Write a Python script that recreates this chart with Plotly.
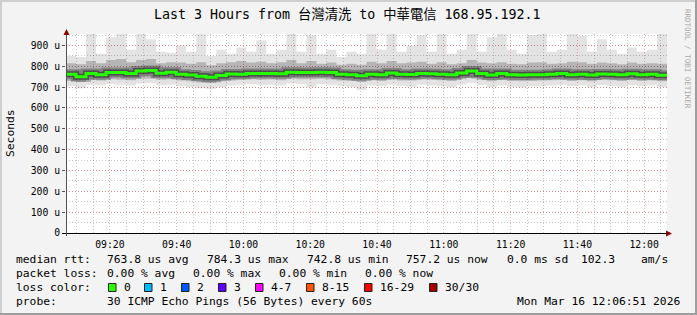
import plotly.graph_objects as go
import pandas as pd

# ---------------- data (microseconds), one value per 3-minute column ----------------
start = pd.Timestamp("2026-03-16 09:06:51")
end = pd.Timestamp("2026-03-16 12:06:51")
times = list(pd.date_range(start, periods=60, freq="3min"))

median_us = [762, 750, 766, 760, 770, 770, 766, 778, 780, 767,
             772, 762, 758, 752, 748, 756, 763, 762, 766, 765,
             766, 764, 772, 770, 770, 772, 770, 762, 760, 755,
             762, 760, 768, 762, 761, 766, 764, 762, 760, 768,
             778, 766, 758, 765, 760, 758, 760, 760, 762, 765,
             760, 762, 758, 763, 762, 760, 764, 760, 762, 757]

smoke_top = [850, 845, 955, 860, 940, 955, 880, 955, 930, 870,
             865, 900, 870, 955, 850, 880, 860, 890, 870, 925,
             860, 880, 955, 870, 950, 860, 880, 845, 870, 860,
             955, 880, 955, 870, 900, 950, 870, 955, 860, 880,
             955, 870, 940, 955, 880, 860, 950, 955, 870, 880,
             955, 945, 870, 930, 880, 860, 890, 870, 880, 955]

smoke_upper = [815, 810, 825, 815, 830, 835, 820, 830, 835, 815,
               820, 818, 812, 820, 805, 815, 820, 825, 818, 822,
               815, 820, 830, 815, 825, 812, 818, 808, 812, 808,
               822, 815, 825, 815, 818, 822, 812, 820, 810, 815,
               830, 818, 815, 820, 812, 810, 818, 820, 812, 815,
               822, 820, 812, 818, 815, 810, 818, 812, 815, 812]

smoke_lower = [730, 725, 735, 732, 738, 735, 733, 740, 742, 735,
               738, 732, 728, 722, 720, 728, 732, 735, 738, 735,
               737, 733, 740, 738, 738, 740, 738, 732, 730, 725,
               733, 730, 738, 732, 732, 737, 735, 733, 730, 738,
               745, 736, 728, 735, 730, 728, 730, 732, 733, 735,
               730, 733, 728, 735, 733, 730, 735, 730, 733, 728]

smoke_bottom = [705, 695, 712, 710, 715, 712, 708, 718, 720, 710,
                712, 705, 700, 695, 692, 700, 708, 712, 715, 710,
                712, 708, 718, 715, 700, 715, 712, 705, 700, 688,
                708, 705, 712, 705, 702, 712, 708, 705, 700, 712,
                720, 710, 700, 708, 702, 700, 705, 706, 708, 710,
                705, 708, 700, 710, 706, 702, 710, 704, 708, 700]

y_tick_vals = [0, 100, 200, 300, 400, 500, 600, 700, 800, 900]
y_tick_text = ["0", "100 u", "200 u", "300 u", "400 u", "500 u", "600 u", "700 u", "800 u", "900 u"]

title_text = "Last 3 Hours from 台灣清洗 to 中華電信 168.95.192.1"
rtt_label = "median rtt:"
rtt_stats = ["763.8 us avg", "784.3 us max", "742.8 us min", "757.2 us now", "0.0 ms sd", "102.3", "am/s"]
loss_label = "packet loss:"
loss_stats = ["0.00 % avg", "0.00 % max", "0.00 % min", "0.00 % now"]
color_label = "loss color:"
loss_names = ["0", "1", "2", "3", "4-7", "8-15", "16-29", "30/30"]
loss_colors = ["#26ff00", "#00b8ff", "#0059ff", "#5e00ff", "#ff00ff", "#ff5500", "#ff0000", "#a10000"]
probe_label = "probe:"
probe_text = "30 ICMP Echo Pings (56 Bytes) every 60s"
date_text = "Mon Mar 16 12:06:51 2026"
watermark = "RRDTOOL / TOBI OETIKER"

# ---------------- layout geometry ----------------
W_IMG, H_IMG = 697, 315
L, R, T, Bm = 66, 30, 34, 82
PW = W_IMG - L - R
PH = H_IMG - T - Bm
BOT = H_IMG - Bm

def fx(x):
    return (x - L) / PW

def fy(y):
    return (BOT - y) / PH

MONO = "DejaVu Sans Mono, Noto Sans CJK TC, monospace"

xs = times + [end]

def ext(v):
    return list(v) + [v[-1]]

fig = go.Figure()
fig.add_trace(go.Scatter(x=xs, y=ext(smoke_bottom), mode="lines", line=dict(width=0, shape="hv"),
                         hoverinfo="skip"))
fig.add_trace(go.Scatter(x=xs, y=ext(smoke_top), mode="lines", line=dict(width=0, shape="hv"),
                         fill="tonexty", fillcolor="rgba(0,0,0,0.11)", hoverinfo="skip"))
fig.add_trace(go.Scatter(x=xs, y=ext(smoke_lower), mode="lines", line=dict(width=0, shape="hv"),
                         hoverinfo="skip"))
fig.add_trace(go.Scatter(x=xs, y=ext(smoke_upper), mode="lines", line=dict(width=0, shape="hv"),
                         fill="tonexty", fillcolor="rgba(0,0,0,0.2)", hoverinfo="skip"))
fig.add_trace(go.Scatter(x=xs, y=ext(median_us), mode="lines",
                         line=dict(width=10, shape="hv", color="rgba(0,0,0,0.28)"), hoverinfo="skip"))
fig.add_trace(go.Scatter(x=xs, y=ext(median_us), mode="lines",
                         line=dict(width=6, shape="hv", color="rgba(0,0,0,0.4)"), hoverinfo="skip"))
fig.add_trace(go.Scatter(x=xs, y=ext(median_us), mode="lines",
                         line=dict(width=3, shape="hv", color="#26ff00"), name="median"))

annotations = []

def text(s, x, y, size=11.3, anchor="left", color="#000", angle=0):
    annotations.append(dict(text=s, x=fx(x), y=fy(y), xref="paper", yref="paper",
                            xanchor=anchor, yanchor="middle", showarrow=False,
                            borderpad=0, borderwidth=0, textangle=angle,
                            font=dict(family=MONO, size=size, color=color)))

text(title_text, 347.5, 14.5, size=13.3, anchor="center")
text("Seconds", 10, 133, size=11.3, anchor="center", angle=-90)
text(watermark, 688, 59, size=7.5, anchor="center", color="#aaaaaa", angle=90)

row_y = [259.2, 273.0, 287.0, 301.0]
text(rtt_label, 16, row_y[0])
for s, x in zip(rtt_stats, [107, 207, 307, 406, 507, 581, 641]):
    text(s, x, row_y[0])
text(loss_label, 16, row_y[1])
for s, x in zip(loss_stats, [107, 193, 279, 365]):
    text(s, x, row_y[1])
text(color_label, 16, row_y[2])
label_x = [124, 160, 197, 234, 271, 322, 380, 445]
shapes = []
for s, c, x in zip(loss_names, loss_colors, label_x):
    text(s, x, row_y[2])
    shapes.append(dict(type="rect", xref="paper", yref="paper",
                       x0=fx(x - 15.5), x1=fx(x - 8), y0=fy(291.5), y1=fy(283.5),
                       fillcolor=c, line=dict(color="#222", width=1)))
text(probe_label, 16, row_y[3])
text(probe_text, 107, row_y[3])
text(date_text, 680, row_y[3], anchor="right")

# frame
shapes += [
    dict(type="rect", xref="paper", yref="paper", x0=fx(0), x1=fx(W_IMG), y0=fy(0), y1=fy(2),
         fillcolor="#cfcfcf", line=dict(width=0)),
    dict(type="rect", xref="paper", yref="paper", x0=fx(0), x1=fx(2), y0=fy(0), y1=fy(H_IMG),
         fillcolor="#cfcfcf", line=dict(width=0)),
    dict(type="rect", xref="paper", yref="paper", x0=fx(0), x1=fx(W_IMG), y0=fy(H_IMG - 2), y1=fy(H_IMG),
         fillcolor="#9e9e9e", line=dict(width=0)),
    dict(type="rect", xref="paper", yref="paper", x0=fx(W_IMG - 2), x1=fx(W_IMG), y0=fy(0), y1=fy(H_IMG),
         fillcolor="#9e9e9e", line=dict(width=0)),
]
# axes lines and arrows
shapes += [
    dict(type="line", xref="paper", yref="paper", x0=fx(62), x1=fx(667), y0=fy(233.5), y1=fy(233.5),
         line=dict(color="#000", width=1)),
    dict(type="line", xref="paper", yref="paper", x0=fx(66.5), x1=fx(66.5), y0=fy(236), y1=fy(33),
         line=dict(color="#555", width=1)),
    dict(type="path", xref="paper", yref="paper",
         path=f"M {fx(666)} {fy(230.5)} L {fx(672)} {fy(233.5)} L {fx(666)} {fy(236.5)} Z",
         fillcolor="#8b0000", line=dict(color="#8b0000", width=0)),
    dict(type="path", xref="paper", yref="paper",
         path=f"M {fx(63.5)} {fy(35)} L {fx(66.5)} {fy(29)} L {fx(69.5)} {fy(35)} Z",
         fillcolor="#8b0000", line=dict(color="#8b0000", width=0)),
]

MAJ = "rgba(225,80,80,0.45)"
MIN = "rgba(120,120,120,0.4)"
fig.update_layout(
    width=W_IMG, height=H_IMG,
    margin=dict(l=L, r=R, t=T, b=Bm, pad=0),
    paper_bgcolor="#f3f3f3", plot_bgcolor="#ffffff",
    showlegend=False,
    annotations=annotations, shapes=shapes,
    xaxis=dict(type="date", range=[start, end], tick0="2026-03-16 09:00:00", dtick=1200000,
               tickformat="%H:%M", showgrid=True, gridcolor=MAJ, griddash="1px,2px", gridwidth=1,
               minor=dict(dtick=300000, tick0="2026-03-16 09:00:00", showgrid=True,
                          gridcolor=MIN, griddash="1px,2px", gridwidth=1),
               showline=False, zeroline=False, ticks="outside", ticklen=2, tickcolor="rgba(0,0,0,0)",
               tickfont=dict(family=MONO, size=9.75, color="#000")),
    yaxis=dict(range=[0, 955], tickmode="array", tickvals=y_tick_vals, ticktext=y_tick_text,
               showgrid=True, gridcolor=MAJ, griddash="1px,2px", gridwidth=1,
               minor=dict(tickmode="linear", tick0=0, dtick=50, showgrid=True,
                          gridcolor=MIN, griddash="1px,2px", gridwidth=1),
               showline=False, zeroline=False, ticks="outside", ticklen=3, tickcolor="#555",
               tickfont=dict(family=MONO, size=9.75, color="#000")),
)

fig.write_html("out.html")
